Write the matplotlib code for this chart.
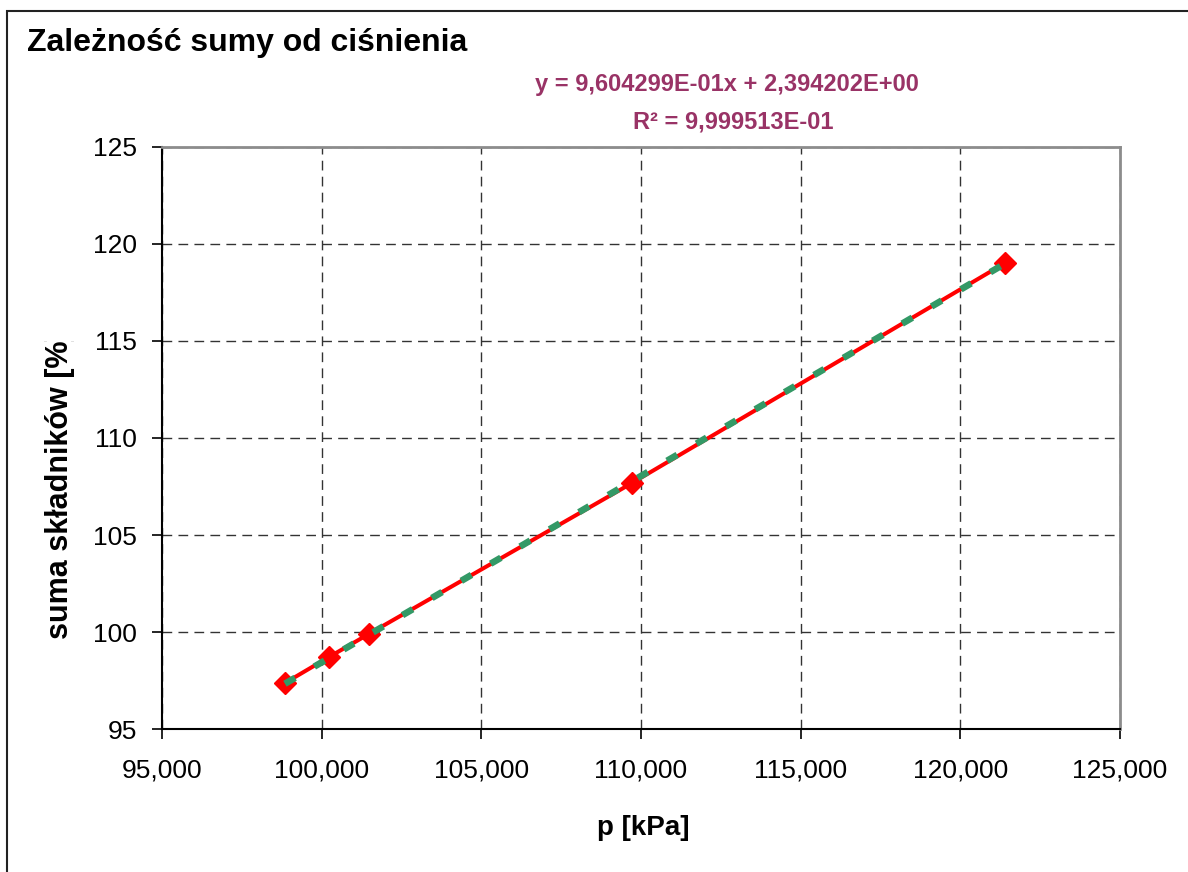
import matplotlib
matplotlib.use("Agg")
import matplotlib.pyplot as plt
import numpy as np
from matplotlib.ticker import FuncFormatter
from matplotlib.patches import Rectangle
from matplotlib.transforms import Bbox

# ---- data ----
pressure_kpa = [98.85, 100.23, 101.48, 109.72, 121.40]
sum_percent = [97.37, 98.71, 99.90, 107.68, 119.02]
trend_slope = 0.9604299
trend_intercept = 2.394202
x_ticks = [95, 100, 105, 110, 115, 120, 125]
y_ticks = [95, 100, 105, 110, 115, 120, 125]

title = "Zależność sumy od ciśnienia"
eq_line1 = "y = 9,604299E-01x + 2,394202E+00"
eq_line2 = "R² = 9,999513E-01"
x_label = "p [kPa]"
y_label = "suma składników [%]"

plt.rcParams['font.family'] = ['Liberation Sans', 'DejaVu Sans']
plt.rcParams['lines.scale_dashes'] = False

W, H = 1188, 872
fig = plt.figure(figsize=(W / 100, H / 100), dpi=100)
fig.patch.set_facecolor('white')

# outer chart border
fig.patches.append(Rectangle((7 / W, -0.05), 1.2, 1 - 11 / H + 0.05,
                             transform=fig.transFigure, fill=False,
                             edgecolor='#222222', linewidth=1.5))

left, right, top, bottom = 162, 1120, 147, 729
ax = fig.add_axes([left / W, (H - bottom) / H, (right - left) / W, (bottom - top) / H])

ax.set_xlim(95, 125)
ax.set_ylim(95, 125)
ax.set_xticks(x_ticks)
ax.set_yticks(y_ticks)
ax.xaxis.set_major_formatter(FuncFormatter(lambda v, p: f"{v:.3f}".replace('.', ',')))
ax.yaxis.set_major_formatter(FuncFormatter(lambda v, p: f"{v:.0f}"))
ax.tick_params(axis='both', direction='out', length=7, width=1.2, color='black',
               labelsize=19)
ax.tick_params(axis='y', pad=11)
ax.tick_params(axis='x', pad=14)

ax.grid(True, color='#333333', linewidth=1.0, linestyle=(0, (7, 4.5)))
ax.set_axisbelow(True)

for s in ['left', 'bottom']:
    ax.spines[s].set_color('black')
    ax.spines[s].set_linewidth(1.5)
for s in ['top', 'right']:
    ax.spines[s].set_color('#8c8c8c')
    ax.spines[s].set_linewidth(2.0)

# data series
ax.plot(pressure_kpa, sum_percent, color='#ff0000', linewidth=2.9,
        marker='D', markersize=11.5, markerfacecolor='#ff0000',
        markeredgecolor='#ff0000', markeredgewidth=1, zorder=3, clip_on=False)

# linear trendline
xt = np.array([min(pressure_kpa), max(pressure_kpa)])
yt = trend_slope * xt + trend_intercept
ax.plot(xt, yt, color='#339966', linewidth=4.8, linestyle=(0, (8.5, 16)),
        solid_capstyle='butt', dash_capstyle='butt', zorder=4)

# texts
fig.text(27 / W, 1 - 43 / H, title, fontsize=23, fontweight='bold',
         ha='left', va='center', color='black')
fig.text(727 / W, 1 - 85 / H, eq_line1, fontsize=17, fontweight='bold',
         ha='center', va='center', color='#993366')
fig.text(733 / W, 1 - 122 / H, eq_line2, fontsize=17, fontweight='bold',
         ha='center', va='center', color='#993366')
fig.text(643 / W, 1 - 828 / H, x_label, fontsize=20, fontweight='bold',
         ha='center', va='center', color='black')
yl = fig.text(60 / W, 1 - 639 / H, y_label, fontsize=22, fontweight='bold',
              rotation=90, ha='center', va='bottom', color='black')
yl.set_clip_box(Bbox.from_extents(0, 0, W, H - 341))
yl.set_clip_on(True)

fig.savefig('out.png', dpi=100, facecolor='white')
